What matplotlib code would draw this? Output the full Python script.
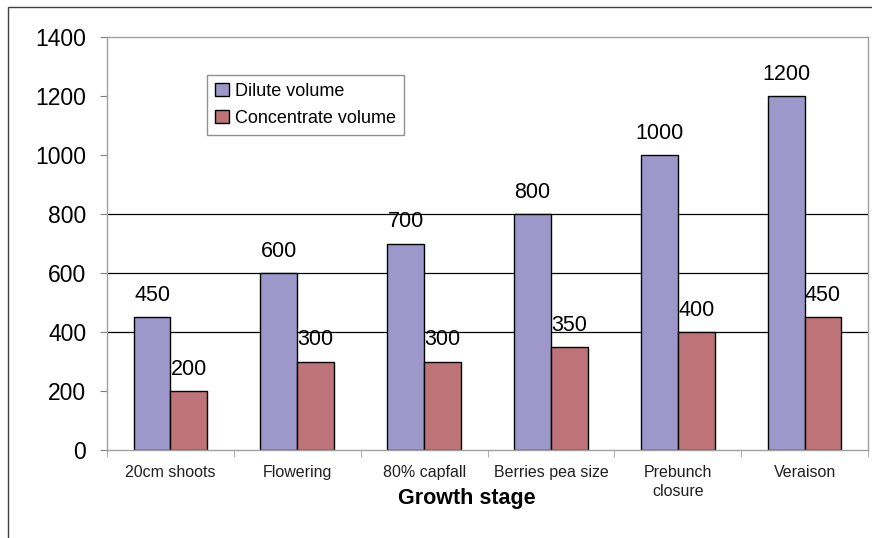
import numpy as np
import matplotlib.pyplot as plt
from matplotlib.patches import Rectangle

plt.rcParams['font.family'] = ['Liberation Sans', 'DejaVu Sans']

stages = ['20cm shoots', 'Flowering', '80% capfall', 'Berries pea size',
          'Prebunch\nclosure', 'Veraison']
dilute = [450, 600, 700, 800, 1000, 1200]
concentrate = [200, 300, 300, 350, 400, 450]
yticks = [0, 200, 400, 600, 800, 1000, 1200, 1400]
gridlines = [400, 600, 800]

fig = plt.figure(figsize=(8.72, 5.38), dpi=100)
# outer chart frame (left and top edges)
fig.patches.append(Rectangle((8 / 872, -0.2), 2.0, 1.2 - 7 / 538, transform=fig.transFigure,
                             fill=False, edgecolor='#404040', linewidth=1.0))
ax = fig.add_axes([107 / 872, 1 - 450 / 538, 761 / 872, 413 / 538])

x = np.arange(len(stages))
w = 0.29
for g in gridlines:
    ax.axhline(g, color='black', linewidth=0.9, zorder=1)
b1 = ax.bar(x - w / 2, dilute, w, color='#9D97CA', edgecolor='black', linewidth=1.0,
            label='Dilute volume', zorder=2)
b2 = ax.bar(x + w / 2, concentrate, w, color='#BD7377', edgecolor='black', linewidth=1.0,
            label='Concentrate volume', zorder=2)
for bars in (b1, b2):
    for r in bars:
        ax.annotate(f'{int(r.get_height())}', (r.get_x() + r.get_width() / 2, r.get_height()),
                    xytext=(0, 8), textcoords='offset points', ha='center', va='bottom',
                    fontsize=15.5)

ax.set_xlim(-0.5, len(stages) - 0.5)
ax.set_ylim(0, 1400)
ax.set_yticks(yticks)
ax.tick_params(axis='y', labelsize=16.5, length=5, color='#808080', pad=10)
ax.set_xticks(x)
ax.set_xticklabels(stages, fontsize=11.5, color='#202020', linespacing=1.35)
ax.set_xticks(np.arange(-0.5, len(stages)), minor=True)
ax.tick_params(axis='x', which='major', length=0, pad=11)
ax.tick_params(axis='x', which='minor', length=5, color='#a0a0a0')
for s in ax.spines.values():
    s.set_color('#a0a0a0')
    s.set_linewidth(1.0)
ax.set_xlabel('Growth stage', fontsize=15.5, fontweight='bold', labelpad=2)
ax.xaxis.set_label_coords(0.473, -0.092)

leg = ax.legend(loc='upper left', bbox_to_anchor=(0.12, 0.93), fontsize=13,
                handlelength=0.75, handleheight=0.75, handletextpad=0.35,
                borderpad=0.45, labelspacing=0.55, fancybox=False, framealpha=1)
leg.get_frame().set_edgecolor('#909090')
leg.get_frame().set_linewidth(1.0)

fig.savefig('out.png', dpi=100)
